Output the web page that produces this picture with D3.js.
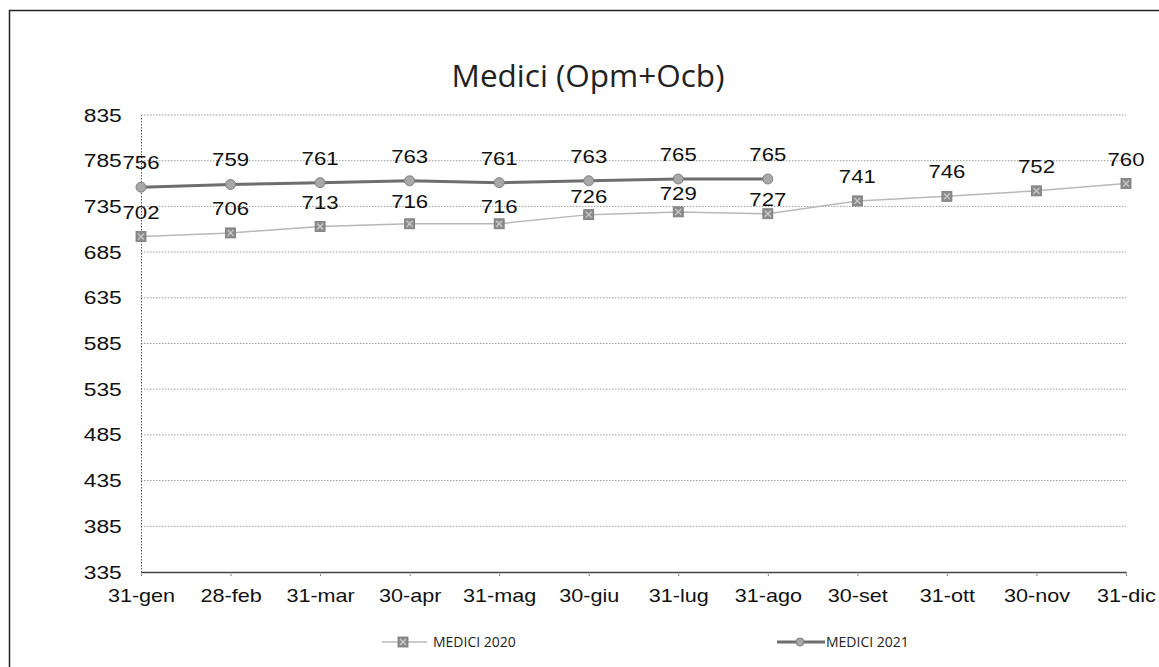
<!DOCTYPE html>
<html>
<head>
<meta charset="utf-8">
<script src="https://cdn.jsdelivr.net/npm/d3@7"></script>
<style>
  body { margin: 0; background: #fff; }
  svg { display: block; }
</style>
</head>
<body>
<div id="chart"></div>
<script>
// data
const months = ["31-gen", "28-feb", "31-mar", "30-apr", "31-mag", "30-giu",
                "31-lug", "31-ago", "30-set", "31-ott", "30-nov", "31-dic"];
const medici2020 = [702, 706, 713, 716, 716, 726, 729, 727, 741, 746, 752, 760];
const medici2021 = [756, 759, 761, 763, 761, 763, 765, 765];
const yTicks = [335, 385, 435, 485, 535, 585, 635, 685, 735, 785, 835];

// labels moved a bit down in the original to avoid overlapping the other series
const nudge2020 = [0, 0, 0, 2, 7, 6, 6, 10, 0, 0, 0, 0];

const width = 1159, height = 667;
const margin = { left: 141, right: 33, top: 115, bottom: 95 };
const stretch = 1.2; // the labels are wide in the scan

const svg = d3.select("#chart").append("svg")
  .attr("width", width)
  .attr("height", height);

// frame (right and bottom sides fall outside the picture)
svg.append("rect")
  .attr("x", 9.5).attr("y", 10.5)
  .attr("width", 1170).attr("height", 670)
  .attr("fill", "none")
  .attr("stroke", "#222")
  .attr("stroke-width", 1.5);

const x = d3.scalePoint()
  .domain(months)
  .range([margin.left, width - margin.right]);

const y = d3.scaleLinear()
  .domain([335, 835])
  .range([height - margin.bottom, margin.top]);

// title
svg.append("text")
  .attr("x", 588).attr("y", 87)
  .attr("text-anchor", "middle")
  .style("font-family", "'Open Sans', sans-serif")
  .style("font-size", "31.5px")
  .attr("fill", "#222")
  .text("Medici (Opm+Ocb)");

// grid
svg.append("g")
  .selectAll("line")
  .data(yTicks.filter(d => d !== 335))
  .join("line")
  .attr("x1", margin.left).attr("x2", width - margin.right)
  .attr("y1", d => y(d)).attr("y2", d => y(d))
  .attr("stroke", "#999")
  .attr("stroke-width", 1)
  .attr("stroke-dasharray", "1.5,1.5");

// y axis
const yAxis = svg.append("g")
  .attr("transform", `translate(${margin.left},0)`)
  .call(d3.axisLeft(y).tickValues(yTicks).tickSize(0).tickPadding(16));
yAxis.select(".domain")
  .attr("stroke", "#555")
  .attr("stroke-dasharray", "1.5,1.5");
yAxis.selectAll("text")
  .attr("transform", `scale(${stretch},1)`)
  .style("font-family", "'Liberation Sans', Arial, sans-serif")
  .style("font-size", "19px")
  .attr("fill", "#111");

// x axis
const xAxis = svg.append("g")
  .attr("transform", `translate(0,${y(335)})`)
  .call(d3.axisBottom(x).tickSize(5).tickPadding(12).tickSizeOuter(0));
xAxis.select(".domain").attr("stroke", "#444").attr("stroke-width", 1.3);
xAxis.selectAll(".tick line")
  .attr("stroke", "#666")
  .attr("stroke-dasharray", "1.5,1");
xAxis.selectAll("text")
  .attr("transform", `scale(${stretch},1)`)
  .style("font-family", "'Liberation Sans', Arial, sans-serif")
  .style("font-size", "18px")
  .attr("fill", "#111");

const line = d3.line()
  .x((d, i) => x(months[i]))
  .y(d => y(d));

// 2020 series
svg.append("path")
  .datum(medici2020)
  .attr("d", line)
  .attr("fill", "none")
  .attr("stroke", "#b8b8b8")
  .attr("stroke-width", 1.5);

svg.append("g")
  .selectAll("rect")
  .data(medici2020)
  .join("rect")
  .attr("x", (d, i) => x(months[i]) - 5)
  .attr("y", d => y(d) - 5)
  .attr("width", 10).attr("height", 10)
  .attr("fill", "#8c8c8c")
  .attr("stroke", "#777")
  .attr("stroke-width", 0.8);

svg.append("g")
  .selectAll("path")
  .data(medici2020)
  .join("path")
  .attr("d", (d, i) => {
    const cx = x(months[i]), cy = y(d);
    return `M${cx - 3},${cy - 3}L${cx + 3},${cy + 3}M${cx + 3},${cy - 3}L${cx - 3},${cy + 3}`;
  })
  .attr("stroke", "#cfcfcf")
  .attr("stroke-width", 1.2);

// 2021 series
svg.append("path")
  .datum(medici2021)
  .attr("d", line)
  .attr("fill", "none")
  .attr("stroke", "#6e6e6e")
  .attr("stroke-width", 3);

svg.append("g")
  .selectAll("circle")
  .data(medici2021)
  .join("circle")
  .attr("cx", (d, i) => x(months[i]))
  .attr("cy", d => y(d))
  .attr("r", 5)
  .attr("fill", "#a8a8a8")
  .attr("stroke", "#808080")
  .attr("stroke-width", 1);

// data labels
const labelStyle = sel => sel
  .attr("text-anchor", "middle")
  .style("font-family", "'Liberation Sans', Arial, sans-serif")
  .style("font-size", "18.5px")
  .attr("fill", "#111");

svg.append("g")
  .selectAll("text")
  .data(medici2020)
  .join("text")
  .attr("transform", (d, i) =>
    `translate(${x(months[i])},${y(d) - 18 + nudge2020[i]}) scale(${stretch},1)`)
  .text(d => d)
  .call(labelStyle);

svg.append("g")
  .selectAll("text")
  .data(medici2021)
  .join("text")
  .attr("transform", (d, i) =>
    `translate(${x(months[i])},${y(d) - 18}) scale(${stretch},1)`)
  .text(d => d)
  .call(labelStyle);

// legend
const legend = svg.append("g")
  .style("font-family", "'Open Sans', sans-serif")
  .style("font-size", "14px");

const lg1 = legend.append("g").attr("transform", "translate(382,642)");
lg1.append("line").attr("x1", 0).attr("x2", 45).attr("stroke", "#b8b8b8").attr("stroke-width", 1.5);
lg1.append("rect").attr("x", 16).attr("y", -5).attr("width", 10).attr("height", 10)
  .attr("fill", "#8c8c8c").attr("stroke", "#777").attr("stroke-width", 0.8);
lg1.append("path").attr("d", "M18,-3L24,3M24,-3L18,3").attr("stroke", "#cfcfcf").attr("stroke-width", 1.2);
lg1.append("text").attr("x", 51).attr("y", 5).attr("fill", "#222").text("MEDICI 2020");

const lg2 = legend.append("g").attr("transform", "translate(777,642)");
lg2.append("line").attr("x1", 0).attr("x2", 48).attr("stroke", "#6e6e6e").attr("stroke-width", 3);
lg2.append("circle").attr("cx", 23).attr("cy", 0).attr("r", 4)
  .attr("fill", "#a8a8a8").attr("stroke", "#808080");
lg2.append("text").attr("x", 49).attr("y", 5).attr("fill", "#222").text("MEDICI 2021");
</script>
</body>
</html>
